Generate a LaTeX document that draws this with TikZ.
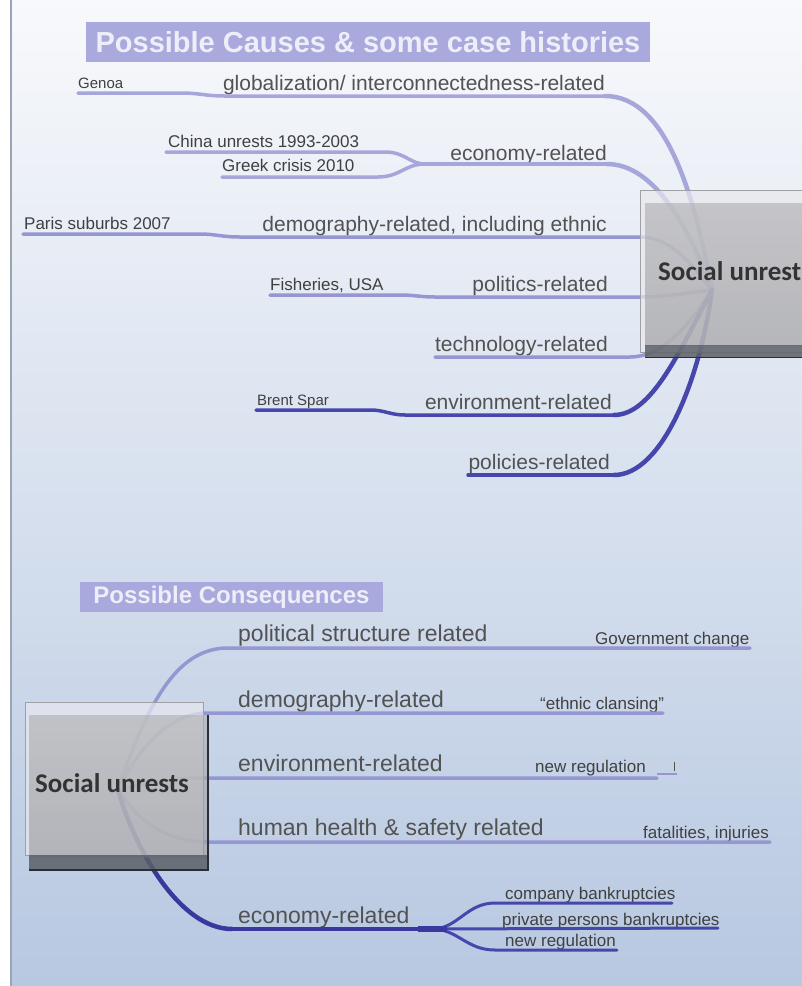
\documentclass[tikz,border=0pt]{standalone}
\usepackage{fontspec}
\setmainfont{Liberation Sans}
\newfontfamily\calib{Carlito}
\definecolor{bgtop}{HTML}{F8F9FC}
\definecolor{bgmid}{HTML}{DCE4F0}
\definecolor{bgbot}{HTML}{B7C8E1}
\definecolor{bordc}{HTML}{9AA6B8}
\definecolor{titlefill}{HTML}{A9A9DE}
\definecolor{titletext}{HTML}{EEEEF8}
\definecolor{labelgray}{HTML}{525252}
\definecolor{smallgray}{HTML}{404040}
\definecolor{lavc}{HTML}{A6A6DA}
\definecolor{lavb}{HTML}{9696D2}
\definecolor{darkc}{HTML}{4646AC}
\definecolor{deepc}{HTML}{38389F}
\definecolor{framefill}{HTML}{E8E8EE}
\definecolor{framedraw}{HTML}{A0A0A4}
\definecolor{boxtop}{HTML}{B2B2B4}
\definecolor{boxbot}{HTML}{9E9EA0}
\definecolor{stripc}{HTML}{5C6068}
\definecolor{edgec}{HTML}{2A2E36}
\definecolor{boxtext}{HTML}{333333}
\tikzset{
  lbl/.style={font=\fontsize{21}{21}\selectfont, text=labelgray, inner sep=0pt},
  blbl/.style={font=\fontsize{23}{23}\selectfont, text=labelgray, inner sep=0pt},
  small/.style={font=\fontsize{17}{17}\selectfont, text=smallgray, inner sep=0pt},
  smaller/.style={font=\fontsize{15}{15}\selectfont, text=smallgray, inner sep=0pt},
  lavA/.style={draw=lavc, line width=3.5pt, line cap=round},
  lavB/.style={draw=lavb, line width=3.5pt, line cap=round},
  darkA/.style={draw=darkc, line width=3.5pt, line cap=round},
  deepA/.style={draw=deepc, line width=3.5pt, line cap=round},
  titlebox/.style={fill=titlefill, text=titletext, inner sep=0pt, font=\bfseries},
  boxtxt/.style={font=\calib\bfseries\fontsize{27}{27}\selectfont, text=boxtext, inner sep=0pt},
}
\begin{document}
\begin{tikzpicture}[x=1pt,y=-1pt]
\useasboundingbox (0,0) rectangle (802,986);
\clip (0,0) rectangle (802,986);
% background
\shade[top color=bgtop, middle color=bgmid, bottom color=bgbot] (0,0) rectangle (802,986);
\fill[white] (0,0) rectangle (10,986);
\draw[bordc, line width=2pt] (11,0) -- (11,986);

% ---------- titles ----------
\node[titlebox, minimum width=564pt, minimum height=40pt, font=\bfseries\fontsize{29}{29}\selectfont] (title1) at (368,42) {Possible Causes \& some case histories};
\node[titlebox, minimum width=303pt, minimum height=30pt, font=\bfseries\fontsize{24}{24}\selectfont] (title2) at (231.5,597) {Possible Consequences};

% ---------- causes ----------
\coordinate (F) at (712,290);

% globalization
\node[lbl, anchor=base east] (glob) at (605,90) {globalization/ interconnectedness-related};
\node[smaller, anchor=base west] (genoa) at (78,88) {Genoa};
\coordinate (genoaS) at (78,93);
\coordinate (globS) at (225,96);
\coordinate (globE) at (605,96);
\draw[lavA] (genoaS) -- (180,93) .. controls (200,93) and (205,96) .. (globS) -- (globE);
\draw[lavA, line width=4.5pt] (globE) .. controls (668,96) and (695,200) .. (F);

% economy
\node[lbl, anchor=base east] (econ) at (607,160) {economy-related};
\node[small, anchor=base west] (china) at (168,147) {China unrests 1993-2003};
\node[small, anchor=base west] (greek) at (222,171) {Greek crisis 2010};
\coordinate (chinaS) at (166,152);
\coordinate (greekS) at (222,177);
\coordinate (econM) at (425,164);
\coordinate (econE) at (607,164);
\draw[lavA] (chinaS) -- (385,152) .. controls (405,152) and (410,164) .. (econM);
\draw[lavA] (greekS) -- (378,177) .. controls (400,177) and (405,164) .. (econM);
\draw[lavA] (econM) -- (econE);
\draw[lavA, line width=4.5pt] (econE) .. controls (655,164) and (690,230) .. (F);

% demography
\node[lbl, anchor=base east] (demog) at (607,231) {demography-related, including ethnic};
\node[small, anchor=base west] (paris) at (24,229) {Paris suburbs 2007};
\coordinate (parisS) at (23,234);
\coordinate (demogE) at (640,237);
\draw[lavB] (parisS) -- (200,234) .. controls (215,234) and (222,237) .. (240,237) -- (demogE) .. controls (670,237) and (690,262) .. (F);

% politics
\node[lbl, anchor=base east] (polit) at (608,291) {politics-related};
\node[small, anchor=base west] (fish) at (270,290) {Fisheries, USA};
\coordinate (fishS) at (270,295);
\coordinate (politE) at (640,297);
\draw[lavB] (fishS) -- (400,295) .. controls (415,295) and (420,297) .. (435,297) -- (politE) .. controls (670,297) and (690,292) .. (F);

% technology
\node[lbl, anchor=base east] (tech) at (608,351) {technology-related};
\coordinate (techS) at (435,357);
\coordinate (techE) at (630,357);
\draw[lavB] (techS) -- (techE) .. controls (662,357) and (690,325) .. (F);

% environment
\node[lbl, anchor=base east] (env) at (612,409) {environment-related};
\node[smaller, anchor=base west] (brent) at (257,405) {Brent Spar};
\coordinate (brentS) at (256,410);
\coordinate (envE) at (614,415);
\draw[darkA] (brentS) -- (370,410) .. controls (385,410) and (390,415) .. (405,415) -- (envE);
\draw[darkA, line width=4.5pt] (envE) .. controls (652,415) and (680,350) .. (F);

% policies
\node[lbl, anchor=base east] (pol) at (610,469) {policies-related};
\coordinate (polS) at (468,475);
\coordinate (polE) at (614,475);
\draw[darkA] (polS) -- (polE);
\draw[darkA, line width=4.5pt] (polE) .. controls (662,475) and (700,380) .. (F);

% top box
\draw[framedraw, fill=framefill, fill opacity=0.7] (640,190) rectangle (812,352);
\shade[top color=boxtop, bottom color=boxbot, opacity=0.66] (645,203) rectangle (812,345);
\fill[stripc, opacity=0.85] (645,345) rectangle (812,357);
\draw[edgec, line width=1pt] (645,357) -- (812,357);
\node[boxtxt, anchor=base west] (unrestA) at (658,280) {Social unrest};

% ---------- consequences ----------
\coordinate (G) at (118,790);

% political structure
\node[blbl, anchor=base west] (cpol) at (238,641) {political structure related};
\node[small, anchor=base west] (gov) at (595,644) {Government change};
\coordinate (cpolS) at (228,648);
\coordinate (cpolE) at (750,648);
\draw[lavB] (cpolE) -- (cpolS) .. controls (180,648) and (150,695) .. (G);

% demography
\node[blbl, anchor=base west] (cdem) at (238,707) {demography-related};
\node[small, anchor=base west] (ethnic) at (540,709) {“ethnic clansing”};
\coordinate (cdemS) at (208,713);
\coordinate (cdemE) at (663,713);
\draw[lavB] (cdemE) -- (cdemS) .. controls (165,713) and (135,755) .. (G);

% environment
\node[blbl, anchor=base west] (cenv) at (238,771) {environment-related};
\node[small, anchor=base west] (newreg1) at (535,772) {new regulation};
\coordinate (cenvS) at (208,778);
\coordinate (cenvE) at (657,778);
\coordinate (tickA) at (674,762);
\coordinate (tickB) at (674,771);
\draw[lavB] (cenvE) -- (cenvS) .. controls (160,778) and (140,785) .. (G);
\draw[lavb, line width=1.2pt] (657,774) -- (677,774);
\draw[labelgray, line width=1pt] (tickA) -- (tickB);

% human health
\node[blbl, anchor=base west] (chum) at (238,835) {human health \& safety related};
\node[small, anchor=base west] (fatal) at (643,838) {fatalities, injuries};
\coordinate (chumS) at (208,842);
\coordinate (chumE) at (770,842);
\draw[lavB] (chumE) -- (chumS) .. controls (160,842) and (135,815) .. (G);

% economy
\node[blbl, anchor=base west] (ceco) at (238,923) {economy-related};
\coordinate (cecoS) at (232,929);
\coordinate (cecoM) at (432,929);
\draw[deepA, line width=4.5pt] (G) .. controls (135,850) and (180,929) .. (cecoS);
\draw[deepA] (cecoS) -- (cecoM);
\node[small, anchor=base west] (comp) at (505,899) {company bankruptcies};
\node[small, anchor=base west] (priv) at (502,925) {private persons bankruptcies};
\node[small, anchor=base west] (newreg2) at (505,946) {new regulation};
\coordinate (compE) at (672,903);
\coordinate (privE) at (718,928);
\coordinate (newE) at (617,950);
\draw[darkA, line width=3pt] (cecoM) .. controls (458,929) and (466,903) .. (495,903) -- (compE);
\draw[darkA, line width=3pt] (cecoM) -- (privE);
\draw[darkA, line width=3pt] (cecoM) .. controls (458,929) and (466,950) .. (495,950) -- (newE);
\draw[deepc, line width=6pt] (418,929) -- (447,929);

% bottom box
\draw[framedraw, fill=framefill, fill opacity=0.7] (25,702) rectangle (203,855);
\shade[top color=boxtop, bottom color=boxbot, opacity=0.66] (29,715) rectangle (208,857);
\fill[stripc, opacity=0.85] (29,855) rectangle (208,870);
\draw[edgec, line width=1.5pt] (208,715) -- (208,870) -- (29,870);
\node[boxtxt, anchor=base west] (unrestB) at (35,792) {Social unrests};
\end{tikzpicture}
\end{document}
